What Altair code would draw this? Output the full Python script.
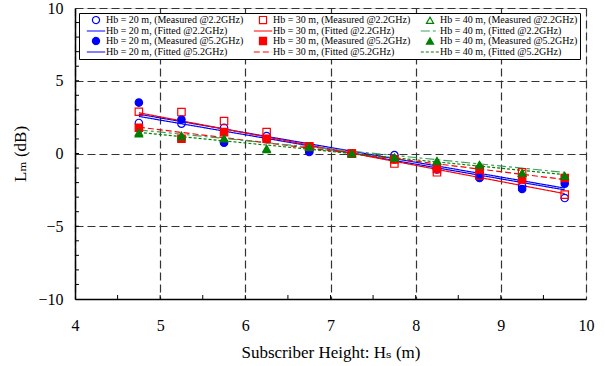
import altair as alt
import pandas as pd

# ---- data ----
x_pos = [4.75, 5.25, 5.75, 6.25, 6.75, 7.25, 7.75, 8.25, 8.75, 9.25, 9.75]
meas_20_22 = [2.10, 2.05, 1.77, 1.20, 0.10, 0.00, -0.11, -1.00, -1.60, -2.25, -3.06]
meas_20_52 = [3.50, 2.34, 0.74, 1.00, 0.16, 0.00, -0.40, -1.10, -1.68, -2.44, -2.07]
meas_30_22 = [2.87, 2.85, 2.23, 1.47, 0.45, 0.00, -0.69, -1.29, -1.50, -1.29, -2.83]
meas_30_52 = [1.77, 1.01, 1.47, 1.01, 0.50, 0.00, -0.41, -1.06, -1.10, -1.79, -1.68]
meas_40_22 = [1.45, 1.15, 1.05, 0.35, 0.45, 0.00, -0.25, -0.50, -0.80, -1.35, -1.55]
meas_40_52 = [1.36, 1.24, 1.01, 0.28, 0.45, 0.00, -0.30, -0.53, -0.76, -1.33, -1.52]

fit_x = [4.75, 9.75]
fit_20_22 = [2.55, -2.50]
fit_20_52 = [2.70, -2.38]
fit_30_22 = [2.80, -2.76]
fit_30_52 = [1.81, -1.79]
fit_40_22 = [1.62, -1.30]
fit_40_52 = [1.45, -1.45]

x_ticks = [4, 5, 6, 7, 8, 9, 10]
y_ticks = [-10, -5, 0, 5, 10]
x_minor = [4.5, 5, 5.5, 6, 6.5, 7, 7.5, 8, 8.5, 9, 9.5]
y_minor = [-9, -8, -7, -6, -5, -4, -3, -2, -1, 0, 1, 2, 3, 4, 5, 6, 7, 8, 9]

def name(hb, kind, f):
    return f"Hb = {hb} m, ({kind} @{f}GHz)"

# legend order (column-major, 3 columns x 4 rows)
series = [
    name(20, "Measured", "2.2"), name(20, "Fitted", "2.2"), name(20, "Measured", "5.2"), name(20, "Fitted", "5.2"),
    name(30, "Measured", "2.2"), name(30, "Fitted", "2.2"), name(30, "Measured", "5.2"), name(30, "Fitted", "5.2"),
    name(40, "Measured", "2.2"), name(40, "Fitted", "2.2"), name(40, "Measured", "5.2"), name(40, "Fitted", "5.2"),
]
BLUE, RED, GREEN, LGREEN = "#0000ff", "#ff0000", "#008000", "#3f9f5f"
LINE = "M-2.6,0L2.6,0"
T = "transparent"
stroke_range = [BLUE, BLUE, BLUE, BLUE, RED, RED, RED, RED, GREEN, LGREEN, GREEN, GREEN]
fill_range = [T, T, BLUE, T, T, T, RED, T, T, T, GREEN, T]
shape_range = ["circle", LINE, "circle", LINE,
               "square", LINE, "square", LINE,
               "triangle-up", LINE, "triangle-up", LINE]
dash_range = [[1, 0], [1, 0], [1, 0], [1, 0],
              [1, 0], [1, 0], [1, 0], [6, 3],
              [1, 0], [9, 3, 3, 3], [1, 0], [3, 2]]

pts_rows = []
for hb, f, vals in [(20, "2.2", meas_20_22), (20, "5.2", meas_20_52),
                    (30, "2.2", meas_30_22), (30, "5.2", meas_30_52),
                    (40, "2.2", meas_40_22), (40, "5.2", meas_40_52)]:
    for xv, yv in zip(x_pos, vals):
        pts_rows.append({"x": xv, "y": yv, "series": name(hb, "Measured", f)})
pts = pd.DataFrame(pts_rows)

line_rows = []
for hb, f, vals in [(20, "2.2", fit_20_22), (20, "5.2", fit_20_52),
                    (30, "2.2", fit_30_22), (30, "5.2", fit_30_52),
                    (40, "2.2", fit_40_22), (40, "5.2", fit_40_52)]:
    for xv, yv in zip(fit_x, vals):
        line_rows.append({"x": xv, "y": yv, "series": name(hb, "Fitted", f)})
lines = pd.DataFrame(line_rows)

FONT = "Liberation Serif, Times New Roman, DejaVu Serif, serif"
W, H = 511, 291

legend = alt.Legend(
    title=None, orient="none", legendX=4, legendY=5, columns=3,
    labelFont=FONT, labelFontSize=10, labelColor="black", labelLimit=300,
    symbolSize=50, symbolStrokeWidth=1.2, symbolOffset=10, labelOffset=5,
    padding=2, rowPadding=-3, columnPadding=4,
    strokeColor="black", fillColor="white",
)

X = alt.X("x:Q", scale=alt.Scale(domain=[4, 10], nice=False, zero=False),
          axis=alt.Axis(values=x_ticks, title="Subscriber Height: H\u209b (m)",
                        grid=True, gridDash=[8, 4], gridColor="#333333", gridWidth=1.2,
                        ticks=False, tickSize=0, labelPadding=26, labelBaseline="middle",
                        labelFont=FONT, labelFontSize=16, labelColor="black",
                        titleFont=FONT, titleFontSize=17, titleFontWeight="normal",
                        titleColor="black", titleY=58, titleBaseline="alphabetic",
                        domainColor="black", domainWidth=1.5, labelFlush=False))
Y = alt.Y("y:Q", scale=alt.Scale(domain=[-10, 10], nice=False, zero=False),
          axis=alt.Axis(values=y_ticks, title="L\u2098 (dB)",
                        grid=True, gridDash=[8, 4], gridColor="#333333", gridWidth=1.2,
                        ticks=False, tickSize=0, labelPadding=12,
                        labelFont=FONT, labelFontSize=16, labelColor="black",
                        titleFont=FONT, titleFontSize=17, titleFontWeight="normal",
                        titleColor="black", titleX=-55, titleY=H / 2,
                        titleBaseline="middle", titleAlign="center", titleAngle=-90,
                        domainColor="black", domainWidth=1.5, labelFlush=False))

S_stroke = alt.Stroke("series:N", scale=alt.Scale(domain=series, range=stroke_range), legend=legend)
S_fill = alt.Fill("series:N", scale=alt.Scale(domain=series, range=fill_range), legend=legend)
S_shape = alt.Shape("series:N", scale=alt.Scale(domain=series, range=shape_range), legend=legend)
S_dash = alt.StrokeDash("series:N", scale=alt.Scale(domain=series, range=dash_range), legend=legend)

line_layer = alt.Chart(lines).mark_line(strokeWidth=1.2).encode(
    x=X, y=Y, stroke=S_stroke, strokeDash=S_dash, detail="series:N")

point_layer = alt.Chart(pts).mark_point(filled=False, size=55, strokeWidth=1.2, opacity=1).encode(
    x=X, y=Y, stroke=S_stroke, fill=S_fill, shape=S_shape)

xt = alt.Chart(pd.DataFrame({"x": x_minor})).mark_rule(color="black", strokeWidth=1).encode(
    x=X, y=alt.value(H), y2=alt.value(H - 4))
yt = alt.Chart(pd.DataFrame({"y": y_minor})).mark_rule(color="black", strokeWidth=1).encode(
    y=Y, x=alt.value(0), x2=alt.value(4))

chart = alt.layer(line_layer, point_layer, xt, yt).properties(
    width=W, height=H, autosize=alt.AutoSizeParams(type="none"),
    padding={"left": 75, "top": 8, "right": 605 - 75 - W, "bottom": 366 - 8 - H},
    background="white",
).configure_view(stroke="black", strokeWidth=1.2
).configure_axis(labelFont=FONT, titleFont=FONT
).configure_legend(labelFont=FONT
).configure(font=FONT)

chart.save("out.html", embed_options={"renderer": "svg", "actions": False})
